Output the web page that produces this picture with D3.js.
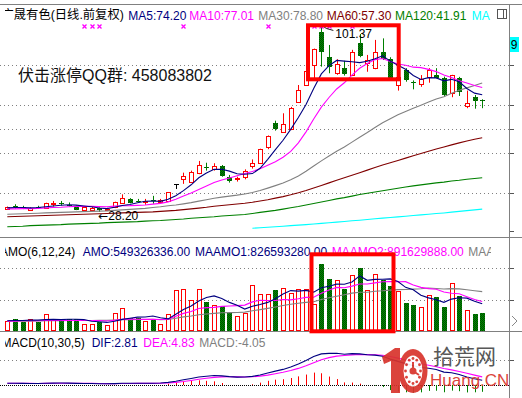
<!DOCTYPE html>
<html><head><meta charset="utf-8">
<script src="https://cdn.jsdelivr.net/npm/d3@7"></script>
<style>html,body{margin:0;padding:0;background:#fff;overflow:hidden}svg{display:block}</style>
</head><body>
<svg id="c" width="522" height="398"></svg>
<script>
// ---------------- DATA ----------------
const stockTitle = '广晟有色(日线.前复权)';
const days = Array.from({length: 63}, (_, i) => i);
const open  = [29.5,30.4,30.0,28.8,30.2,29.9,31.2,31.6,31.0,30.5,29.1,29.1,29.6,28.9,30.0,31.6,33.3,32.6,31.9,32.9,32.2,32.6,39.2,41.1,40.1,43.4,45.9,45.2,46.2,41.8,41.1,42.0,46.2,47.5,53.8,63.2,59.7,60.6,71.5,78.0,85.9,98.9,89.1,82.6,84.6,81.9,94.4,86.5,84.6,90.8,88.1,78.0,83.9,79.3,78.4,81.3,81.9,80.6,74.7,80.6,69.8,73.4,72.0];
const high  = [30.3,31.2,30.6,30.0,30.6,31.8,32.5,32.5,31.9,30.7,30.3,30.5,30.0,29.8,32.2,35.1,33.6,33.3,33.3,34.5,33.3,36.0,39.2,43.6,44.4,48.2,47.5,47.3,46.6,42.7,42.0,44.9,48.8,53.0,58.2,64.0,66.9,69.4,78.0,84.0,92.3,101.37,93.7,88.1,87.5,91.8,98.0,89.8,95.7,96.3,88.9,83.9,84.6,79.8,81.9,84.6,84.6,81.3,82.0,81.2,75.8,74.1,72.4];
const low   = [29.2,29.5,29.3,28.6,29.5,29.8,30.3,30.7,30.3,28.9,28.9,28.7,28.2,28.5,29.7,31.3,31.6,31.8,31.0,31.4,31.9,32.4,37.2,39.2,39.8,43.0,44.4,44.4,42.0,39.7,40.1,41.0,45.2,47.3,52.8,60.1,59.3,60.3,71.3,77.8,80.4,85.2,82.6,82.0,81.7,81.5,88.9,83.2,84.2,87.8,80.0,75.8,79.3,76.3,77.3,78.9,80.6,73.7,73.2,73.7,68.9,68.7,68.9];
const close = [30.0,30.1,29.8,29.7,29.9,31.6,31.5,31.3,30.8,29.1,30.0,29.9,29.0,29.4,31.9,33.5,31.8,32.3,32.3,32.5,32.8,35.9,39.2,42.3,44.0,46.6,45.4,46.2,42.4,40.4,41.5,44.4,47.5,52.8,58.0,60.6,62.7,68.9,76.1,83.6,92.0,91.1,85.2,86.3,82.2,90.8,89.5,87.8,91.1,88.1,80.3,81.3,80.0,78.9,80.3,83.9,80.9,74.1,81.9,75.4,70.8,71.8,71.6];

const ma5   = [29.8,29.9,29.9,29.8,29.9,30.22,30.5,30.8,31.02,30.86,30.54,30.22,29.76,29.48,30.04,30.74,31.12,31.78,32.36,32.48,32.34,33.16,34.54,36.54,38.84,41.6,43.5,44.9,44.92,44.2,43.18,42.98,43.24,45.32,48.84,52.66,56.32,60.6,65.26,70.38,76.66,82.34,85.6,87.64,87.36,87.12,86.8,87.32,88.28,89.46,87.36,85.72,84.16,81.72,80.16,80.88,80.8,79.62,80.22,79.24,76.62,74.8,74.2];
const ma10  = [29.4,29.4,29.5,29.5,29.6,29.8,29.9,30.0,30.2,30.38,30.38,30.36,30.28,30.25,30.45,30.64,30.67,30.77,30.92,31.26,31.54,32.14,33.16,34.45,35.66,36.97,38.33,39.72,40.73,41.52,42.39,43.24,44.07,45.12,46.52,47.92,49.65,51.92,55.29,59.61,64.66,69.33,73.1,76.45,78.87,81.89,84.57,86.46,87.96,88.41,87.24,86.26,85.74,85.0,84.81,84.12,83.26,81.89,80.97,79.7,78.75,77.8,77.01];
const ma30  = [27.3,27.4,27.5,27.6,27.7,27.8,27.9,28.0,28.1,28.2,28.3,28.4,28.5,28.6,28.8,29.0,29.2,29.4,29.6,29.9,30.2,30.6,30.9,31.35,31.85,32.44,32.99,33.56,34.01,34.39,34.77,35.25,35.84,36.61,37.54,38.51,39.55,40.8,42.31,44.13,46.2,48.24,50.11,52.01,53.68,55.59,57.52,59.37,61.33,63.18,64.76,66.28,67.64,68.86,70.07,71.31,72.49,73.42,74.74,75.91,76.88,77.8,78.8];
const ma60  = [26.3,26.4,26.5,26.6,26.7,26.8,26.9,27.0,27.1,27.2,27.3,27.4,27.5,27.6,27.7,27.8,27.9,28.0,28.1,28.2,28.4,28.6,28.8,29.1,29.4,29.7,30.0,30.4,30.7,31.0,31.3,31.6,32.0,32.5,33.0,33.6,34.2,34.9,35.7,36.6,37.6,38.6,39.6,40.6,41.6,42.6,43.6,44.6,45.6,46.6,47.5,48.4,49.3,50.2,51.1,52.0,52.9,53.7,54.5,55.3,56.0,56.7,57.3];
const ma120 = [22.4,22.5,22.6,22.8,22.9,23.0,23.1,23.2,23.4,23.5,23.6,23.7,23.8,24.0,24.1,24.2,24.3,24.4,24.6,24.7,24.8,25.0,25.2,25.4,25.7,25.9,26.1,26.3,26.6,26.8,27.0,27.2,27.6,28.0,28.4,28.8,29.3,29.8,30.3,30.9,31.5,32.1,32.7,33.3,33.8,34.4,35.0,35.5,36.0,36.5,37.0,37.5,38.0,38.4,38.8,39.2,39.6,39.9,40.3,40.6,41.0,41.3,41.6];
const ma250 = [null,null,null,null,null,null,null,null,null,null,null,null,null,null,null,null,null,null,null,null,null,null,null,null,null,null,null,null,null,null,null,null,21.8,22.0,22.2,22.4,22.6,22.8,23.0,23.2,23.45,23.7,23.95,24.2,24.45,24.7,24.95,25.2,25.5,25.75,26.0,26.25,26.5,26.8,27.05,27.3,27.55,27.8,28.1,28.4,28.7,29.0,29.3];
const maNames = ['MA5','MA10','MA30','MA60','MA120','MA'];
const maLast  = ['74.20','77.01','78.80','57.30','41.91',''];
const priceTicks = [85.86, 70.17, 60.75, 51.33, 35.63];
const priceAxisTicks = [85.86, 70.17, 60.75, 51.33, 35.63, 20.72];
const signalDays = [10,11,12,23,34,40,41,42,45];
const qqText = '伏击涨停QQ群: 458083802';

// AMO (units: 1e8 yuan)
const amo   = [3.03,3.55,2.73,3.55,2.73,5.06,3.55,3.03,3.55,3.55,2.03,2.03,2.73,1.73,5.55,7.06,4.03,4.03,3.03,3.64,2.21,5.06,12.33,12.64,9.48,12.64,8.79,7.97,7.58,5.55,4.45,5.55,13.85,11.3,11.3,12.33,13.12,11.52,12.82,12.82,8.09,20.3,15.76,15.36,12.73,16.97,19.0,12.33,17.36,15.55,13.55,12.0,8.6,8.0,7.27,10.8,10.2,7.27,14.5,10.5,6.5,5.06,5.49];
const maamo1 = [3.1,3.2,3.2,3.3,3.3,3.44,3.53,3.44,3.58,3.58,3.46,2.96,2.82,2.6,2.94,3.52,3.86,4.19,4.24,4.56,4.0,3.67,5.05,6.49,7.56,9.06,10.16,10.64,9.85,8.67,7.83,6.65,7.49,8.05,8.67,9.8,11.24,12.24,12.07,12.32,11.78,13.11,13.55,14.19,14.18,14.87,16.69,15.36,15.63,15.66,15.79,14.97,13.23,12.51,10.83,10.04,9.48,8.69,9.67,10.09,9.96,9.01,8.27];
const maamo2 = [3.0,3.0,3.1,3.1,3.1,3.2,3.2,3.2,3.2,3.2,3.2,3.2,3.17,3.02,3.26,3.55,3.66,3.57,3.53,3.58,3.47,3.59,4.45,5.34,5.9,6.81,7.08,7.15,7.45,7.58,7.7,7.85,8.82,9.34,9.26,9.23,9.54,9.44,9.78,10.18,10.23,11.45,12.4,13.21,13.12,13.59,14.24,14.24,14.59,14.92,14.99,14.92,14.96,13.93,13.23,12.85,12.64,11.83,11.45,11.3,10.4,9.52,8.92];
const maamo3 = [3.0,3.0,3.0,3.0,3.05,3.1,3.1,3.15,3.2,3.2,3.2,3.2,3.25,3.25,3.3,3.4,3.45,3.5,3.5,3.55,3.4,3.48,3.87,4.27,4.54,4.92,5.17,5.35,5.55,5.57,5.61,5.72,6.15,6.47,6.86,7.28,7.72,8.13,8.43,8.67,8.84,9.52,10.05,10.53,10.97,11.47,11.75,11.73,12.06,12.18,12.38,12.55,12.59,12.69,12.81,13.03,12.88,12.71,12.84,12.77,12.49,12.22,11.92];
const amoTicks = [9.5, 19.0];
const amoHeader = ['AMO(6,12,24)','AMO:549326336.00','MAAMO1:826593280.00','MAAMO2:891629888.00','MAA'];

// MACD(10,30,5)
const dif  = [1.0,1.0,0.95,0.9,0.9,1.0,1.1,1.15,1.1,0.95,0.9,0.85,0.75,0.7,0.8,1.0,1.0,1.0,1.0,1.05,1.2,1.58,2.24,3.08,3.89,4.77,5.24,5.64,5.43,4.97,4.69,4.76,5.12,5.96,7.14,8.27,9.28,10.67,12.45,14.55,16.98,18.53,18.8,18.93,18.32,18.65,18.52,18.01,17.8,17.08,15.41,14.07,12.72,11.42,10.45,10.01,9.2,7.67,7.33,6.22,4.75,3.7,2.81];
const dea  = [1.0,1.0,0.98,0.95,0.93,0.95,1.0,1.05,1.07,1.03,0.99,0.94,0.88,0.82,0.81,0.87,0.91,0.94,0.96,0.99,1.06,1.23,1.57,2.07,2.68,3.38,4.0,4.55,4.84,4.88,4.82,4.8,4.91,5.26,5.89,6.68,7.55,8.59,9.88,11.44,13.29,15.04,16.29,17.17,17.55,17.92,18.12,18.08,17.99,17.69,16.93,15.98,14.89,13.73,12.64,11.76,10.91,9.83,9.0,8.07,6.96,5.87,4.83];
const macd = [0,0,-0.06,-0.1,-0.06,0.1,0.2,0.2,0.06,-0.16,-0.18,-0.18,-0.26,-0.24,-0.02,0.26,0.18,0.12,0.08,0.12,0.28,0.7,1.34,2.02,2.42,2.78,2.48,2.18,1.18,0.18,-0.26,-0.08,0.42,1.4,2.5,3.18,3.46,4.16,5.14,6.22,7.38,6.98,5.02,3.52,1.54,1.46,0.8,-0.14,-0.38,-1.22,-3.04,-3.82,-4.34,-4.62,-4.38,-3.5,-3.42,-4.32,-3.34,-3.7,-4.42,-4.34,-4.05];
const macdTicks = [15];
const macdHeader = ['MACD(10,30,5)','DIF:2.81','DEA:4.83','MACD:-4.05'];
const cursorLabel = '9';

// ---------------- DRAW ----------------
const W = 522, H = 398;
const RED = '#ff0000', GRN = '#008000', NAVY = '#000080', MAG = '#ff00ff', GRAY = '#808080', DRED = '#800000', CYAN = '#00ffff';
const FONT = "'Liberation Sans','Noto Sans CJK SC',Arial,sans-serif";
const svg = d3.select('#c');
const defs = svg.append('defs');
const pat = defs.append('pattern').attr('id','gpat').attr('patternUnits','userSpaceOnUse').attr('width',2).attr('height',2);
pat.append('rect').attr('width',2).attr('height',2).attr('fill','#009000');
pat.append('rect').attr('width',1).attr('height',1).attr('fill','#004800');
pat.append('rect').attr('x',1).attr('y',1).attr('width',1).attr('height',1).attr('fill','#004800');
defs.append('clipPath').attr('id','clipMain').append('rect').attr('x',0).attr('y',5).attr('width',509).attr('height',232);
defs.append('clipPath').attr('id','clipAmo').append('rect').attr('x',0).attr('y',238).attr('width',509).attr('height',93);
defs.append('clipPath').attr('id','clipMacd').append('rect').attr('x',0).attr('y',332).attr('width',509).attr('height',66);
defs.append('clipPath').attr('id','clipHead').append('rect').attr('x',5).attr('y',0).attr('width',486).attr('height',H);

svg.append('rect').attr('width',W).attr('height',H).attr('fill','#fff');

const x = d3.scalePoint().domain(days).range([7.3, 482.2]);
const yP = d3.scaleLinear().domain([20, 105]).range([232.8, 16.2]);
const yA = d3.scaleLinear().domain([0, 25]).range([331, 248.5]);
const yM = d3.scaleLinear().domain([0, 20]).range([385, 351.4]);

const px = i => Math.round(x(i));

// frame lines
svg.append('line').attr('x1',0).attr('x2',W).attr('y1',4.5).attr('y2',4.5).attr('stroke',GRAY);
svg.append('line').attr('x1',0).attr('x2',W).attr('y1',237.5).attr('y2',237.5).attr('stroke',GRAY);
svg.append('line').attr('x1',0).attr('x2',W).attr('y1',331.5).attr('y2',331.5).attr('stroke',GRAY);

// grid lines
function dotted(y, color, dash) {
  svg.append('line').attr('x1',0).attr('x2',509).attr('y1',Math.round(y)+0.5).attr('y2',Math.round(y)+0.5)
    .attr('stroke',color).attr('stroke-dasharray',dash);
}
priceTicks.forEach(v => dotted(yP(v), GRAY, '1,3'));
amoTicks.forEach(v => dotted(yA(v), GRAY, '1,3'));
macdTicks.forEach(v => dotted(yM(v), GRAY, '1,3'));
dotted(yM(0), '#000', '1,1');

// ---- main panel ----
const gm = svg.append('g').attr('clip-path','url(#clipMain)');
days.forEach(i => {
  const o = open[i], c = close[i], h = high[i], l = low[i];
  const cx = px(i);
  const yh = yP(h), yl = yP(l), yo = Math.round(yP(o)), yc = Math.round(yP(c));
  if (o === c) {
    gm.append('line').attr('x1',cx+0.5).attr('x2',cx+0.5).attr('y1',yo).attr('y2',yl).attr('stroke','#000');
    gm.append('line').attr('x1',cx-2).attr('x2',cx+3).attr('y1',yo+0.5).attr('y2',yo+0.5).attr('stroke','#000');
  } else if (c > o) {
    const top = yc, bot = yo;
    gm.append('line').attr('x1',cx+0.5).attr('x2',cx+0.5).attr('y1',yh).attr('y2',top).attr('stroke',RED);
    gm.append('line').attr('x1',cx+0.5).attr('x2',cx+0.5).attr('y1',bot+1).attr('y2',yl).attr('stroke',RED);
    gm.append('rect').attr('x',cx-1.5).attr('y',top+0.5).attr('width',4).attr('height',Math.max(bot-top,1))
      .attr('fill','#fff').attr('stroke',RED).attr('shape-rendering','crispEdges');
  } else {
    const top = yo, bot = yc;
    gm.append('line').attr('x1',cx+0.5).attr('x2',cx+0.5).attr('y1',yh).attr('y2',yl).attr('stroke',GRN);
    gm.append('rect').attr('x',cx-2).attr('y',top).attr('width',5).attr('height',Math.max(bot-top,1))
      .attr('fill','url(#gpat)').attr('shape-rendering','crispEdges');
  }
});
const lineP = d3.line().defined(v => v != null).x((v, i) => x(days[i])).y(v => yP(v));
[[ma250,CYAN],[ma120,GRN],[ma60,DRED],[ma30,GRAY],[ma10,MAG],[ma5,NAVY]].forEach(([arr,col]) => {
  gm.append('path').attr('d', lineP(arr)).attr('fill','none').attr('stroke',col).attr('stroke-width',1.1);
});
// signal markers
signalDays.forEach(i => {
  const cx = px(i) + 0.5, cy = 26.5;
  svg.append('path').attr('d',`M${cx-2},${cy-2}L${cx+2},${cy+2}M${cx+2},${cy-2}L${cx-2},${cy+2}`)
    .attr('stroke',MAG).attr('stroke-width',1.3);
});
// max / min labels
const iMax = d3.maxIndex(high), iMin = d3.minIndex(low);
const mx = x(iMax), my = yP(high[iMax]);
svg.append('path').attr('d',`M${mx+2},${my+1}L${mx+5},${my+3}L${mx+12},${my+5}`).attr('fill','none').attr('stroke','#000').attr('stroke-width',0.9);
svg.append('text').attr('x',mx+14).attr('y',my+12.5).attr('font-family',FONT).attr('font-size',12).attr('fill','#000').text(high[iMax].toFixed(2));
svg.append('text').attr('x',x(iMin)-1).attr('y',yP(low[iMin])+8.5).attr('font-family',"'DejaVu Sans','Liberation Sans',sans-serif").attr('font-size',12).attr('fill','#000')
  .text('←').append('tspan').attr('font-family',FONT).text(low[iMin].toFixed(2));
svg.append('text').attr('x',18).attr('y',81).attr('font-family',FONT).attr('font-size',16).attr('fill','#111').text(qqText);

// ---- AMO panel ----
const ga = svg.append('g').attr('clip-path','url(#clipAmo)');
days.forEach(i => {
  const cx = px(i), top = Math.round(yA(amo[i])), bot = 331;
  if (close[i] >= open[i]) {
    ga.append('rect').attr('x',cx-1.5).attr('y',top+0.5).attr('width',4).attr('height',bot-top-1)
      .attr('fill','#fff').attr('stroke',RED).attr('shape-rendering','crispEdges');
  } else {
    ga.append('rect').attr('x',cx-2).attr('y',top).attr('width',5).attr('height',bot-top)
      .attr('fill','url(#gpat)').attr('shape-rendering','crispEdges');
  }
});
const lineA = d3.line().x((v, i) => x(days[i])).y(v => yA(v));
[[maamo3,GRAY],[maamo2,MAG],[maamo1,NAVY]].forEach(([arr,col]) => {
  ga.append('path').attr('d', lineA(arr)).attr('fill','none').attr('stroke',col).attr('stroke-width',1.1);
});

// ---- MACD panel ----
const gc = svg.append('g').attr('clip-path','url(#clipMacd)');
days.forEach(i => {
  const v = macd[i];
  if (Math.abs(v) < 0.3) return;
  const cx = px(i) + 0.5;
  gc.append('line').attr('x1',cx).attr('x2',cx).attr('y1',yM(0)).attr('y2',yM(v))
    .attr('stroke', v > 0 ? RED : GRN).attr('stroke-width',1);
});
const lineM = d3.line().x((v, i) => x(days[i])).y(v => yM(v));
gc.append('path').attr('d', lineM(dea)).attr('fill','none').attr('stroke',MAG).attr('stroke-width',1.1);
gc.append('path').attr('d', lineM(dif)).attr('fill','none').attr('stroke',NAVY).attr('stroke-width',1.1);

// ---- headers ----
const gh = svg.append('g').attr('clip-path','url(#clipHead)').attr('font-family',FONT).attr('font-size',12);
gh.append('text').attr('x',1.5).attr('y',19).attr('font-size',12.3).attr('fill','#000').text(stockTitle);
const maCols = [NAVY, MAG, GRAY, DRED, GRN, CYAN];
const maX = [128.3, 189.3, 258.3, 326.7, 395, 471.7];
maNames.forEach((n, k) => gh.append('text').attr('x',maX[k]).attr('y',19.5).attr('fill',maCols[k]).text(n + ':' + maLast[k]));
const amoX = [0, 82.7, 195, 331.7, 468.3], amoCols = ['#000', NAVY, NAVY, MAG, GRAY];
amoHeader.forEach((t, k) => gh.append('text').attr('x',amoX[k]).attr('y',255.5).attr('fill',amoCols[k]).text(t));
const macdX = [1.5, 91.7, 143.3, 199.3], macdCols = ['#000', NAVY, MAG, GRAY];
macdHeader.forEach((t, k) => gh.append('text').attr('x',macdX[k]).attr('y',346.5).attr('fill',macdCols[k]).text(t));
// top right icon
svg.append('rect').attr('x',497.5).attr('y',9.5).attr('width',9).attr('height',9).attr('fill','none').attr('stroke','#555');
svg.append('line').attr('x1',503.5).attr('x2',503.5).attr('y1',9.5).attr('y2',18.5).attr('stroke','#555');

// ---- highlight rectangles ----
svg.append('rect').attr('x',308).attr('y',25.3).attr('width',90.7).attr('height',54).attr('fill','none').attr('stroke',RED).attr('stroke-width',4);
svg.append('rect').attr('x',311.5).attr('y',254.3).attr('width',82).attr('height',77).attr('fill','none').attr('stroke',RED).attr('stroke-width',4);

// ---- right axis ----
svg.append('line').attr('x1',509.5).attr('x2',509.5).attr('y1',4).attr('y2',H).attr('stroke',GRAY);
priceAxisTicks.forEach(v => svg.append('line').attr('x1',510).attr('x2',514).attr('y1',Math.round(yP(v))+0.5).attr('y2',Math.round(yP(v))+0.5).attr('stroke','#555'));
amoTicks.forEach(v => svg.append('line').attr('x1',510).attr('x2',514).attr('y1',Math.round(yA(v))+0.5).attr('y2',Math.round(yA(v))+0.5).attr('stroke','#555'));
macdTicks.forEach(v => svg.append('line').attr('x1',510).attr('x2',514).attr('y1',Math.round(yM(v))+0.5).attr('y2',Math.round(yM(v))+0.5).attr('stroke','#555'));
svg.append('rect').attr('x',510).attr('y',37).attr('width',9).attr('height',15).attr('fill',CYAN);
svg.append('text').attr('x',510.8).attr('y',49).attr('font-family',FONT).attr('font-size',12).attr('fill','#000').text(cursorLabel);
svg.append('path').attr('d','M512,316L517,321L512,326').attr('fill','none').attr('stroke','#888');

// ---- watermark ----
const wm = svg.append('g').attr('opacity',0.92);
const WR = '#d8342c';
wm.append('path').attr('d','M382,357L395,348L400,348L400,393L391,393L391,361L384,364Z').attr('fill',WR);
wm.append('ellipse').attr('cx',413).attr('cy',371).attr('rx',14.5).attr('ry',22).attr('fill',WR);
wm.append('ellipse').attr('cx',413).attr('cy',371).attr('rx',9.5).attr('ry',15.5).attr('fill','#fff');
d3.range(12).forEach(k => {
  const a = k / 12 * 2 * Math.PI;
  wm.append('circle').attr('cx',413 + Math.cos(a) * 7.5).attr('cy',371 + Math.sin(a) * 12.5).attr('r',1.4).attr('fill',WR);
});
wm.append('circle').attr('cx',413).attr('cy',371).attr('r',3.5).attr('fill',WR);
wm.append('path').attr('d','M413,371L413,362M413,371L419,375').attr('stroke',WR).attr('stroke-width',2);
wm.append('text').attr('x',433).attr('y',364).attr('font-family',"'Noto Sans CJK SC',sans-serif").attr('font-size',21).attr('fill','#4a4a4a').text('拾荒网');
wm.append('text').attr('x',430).attr('y',386).attr('font-family',FONT).attr('font-size',17).attr('fill',WR).text('Huang.CN');
</script>
</body></html>
